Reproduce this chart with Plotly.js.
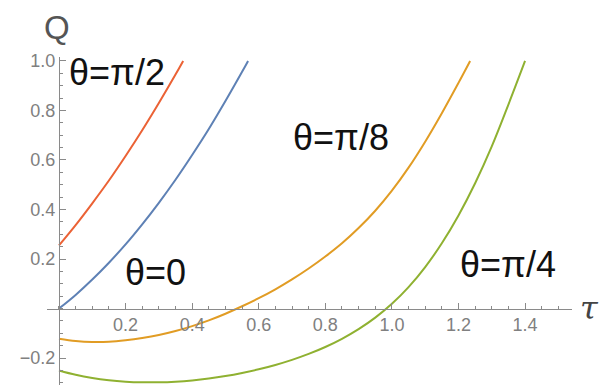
<!DOCTYPE html>
<html>
<head>
<meta charset="utf-8">
<script src="https://cdn.plot.ly/plotly-3.0.1.min.js"></script>
<style>
  html, body { margin: 0; padding: 0; background: #fff; }
  #chart { width: 600px; height: 385px; }
</style>
</head>
<body>
<div id="chart"></div>
<script>
// values (tau, Q)
const tauPi2 = [0, 0.05, 0.1, 0.15, 0.2, 0.25, 0.3, 0.35, 0.373];
const qPi2   = [0.255, 0.337, 0.425, 0.517, 0.616, 0.72, 0.83, 0.945, 1.0];

const tauZero = [0, 0.05, 0.1, 0.15, 0.2, 0.25, 0.3, 0.35, 0.4, 0.45, 0.5, 0.55, 0.568];
const qZero   = [0, 0.055, 0.117, 0.185, 0.259, 0.34, 0.427, 0.52, 0.62, 0.725, 0.838, 0.956, 1.0];

const tauPi8 = [0, 0.05, 0.1, 0.15, 0.2, 0.25, 0.3, 0.35, 0.4, 0.45, 0.5, 0.55, 0.6,
                0.65, 0.7, 0.75, 0.8, 0.85, 0.9, 0.95, 1.0, 1.05, 1.1, 1.15, 1.2, 1.235];
const qPi8   = [-0.122, -0.131, -0.135, -0.134, -0.128, -0.119, -0.107, -0.091, -0.071, -0.048, -0.021, 0.009, 0.0415,
                0.0775, 0.1175, 0.1615, 0.21, 0.2635, 0.325, 0.395, 0.476, 0.569, 0.674, 0.789, 0.9115, 1.0];

const tauPi4 = [0, 0.05, 0.1, 0.15, 0.2, 0.25, 0.3, 0.35, 0.4, 0.45, 0.5, 0.55, 0.6, 0.65, 0.7,
                0.75, 0.8, 0.85, 0.9, 0.95, 1.0, 1.05, 1.1, 1.15, 1.2, 1.25, 1.3, 1.35, 1.4];
const qPi4   = [-0.2505, -0.268, -0.281, -0.29, -0.2955, -0.298, -0.298, -0.2955, -0.2905, -0.283, -0.273, -0.2605, -0.2455, -0.228, -0.2075,
                -0.1835, -0.1555, -0.1225, -0.0835, -0.037, 0.019, 0.0865, 0.1675, 0.2635, 0.376, 0.506, 0.655, 0.824, 1.0];

const xTicks = [0.2, 0.4, 0.6, 0.8, 1.0, 1.2, 1.4];
const yTicks = [-0.2, 0.2, 0.4, 0.6, 0.8, 1.0];

const curveLabels = [
  { text: 'θ=π/2', x: 0.173, y: 0.955 },
  { text: 'θ=0',   x: 0.291, y: 0.147 },
  { text: 'θ=π/8', x: 0.847, y: 0.689 },
  { text: 'θ=π/4', x: 1.348, y: 0.176 }
];

const xRange = [-0.036, 1.541];
const yRange = [-0.309, 1.016];
const axisColor = '#8a8a8a';
const tickFontColor = '#808080';
const sans = 'Liberation Sans, Arial, sans-serif';

function curve(x, y, color) {
  return {
    x: x, y: y, type: 'scatter', mode: 'lines',
    line: { color: color, width: 2, shape: 'spline', smoothing: 1 },
    hoverinfo: 'skip', showlegend: false
  };
}

const traces = [
  curve(tauPi2, qPi2, '#EB6235'),
  curve(tauZero, qZero, '#5E81B5'),
  curve(tauPi8, qPi8, '#E19C24'),
  curve(tauPi4, qPi4, '#8FB131')
];

const annotations = curveLabels.map(l => ({
  text: l.text, x: l.x, y: l.y, xref: 'x', yref: 'y',
  showarrow: false, xanchor: 'center', yanchor: 'middle',
  font: { family: sans, size: 36, color: '#111' }
}));

annotations.push({
  text: 'Q', xref: 'paper', yref: 'paper', x: 0.019, y: 1.091,
  showarrow: false, xanchor: 'center', yanchor: 'middle',
  font: { family: sans, size: 33, color: '#555' }
});
annotations.push({
  text: '<i>τ</i>', xref: 'paper', yref: 'paper', x: 1.034, y: 0.236,
  showarrow: false, xanchor: 'center', yanchor: 'middle',
  font: { family: 'DejaVu Serif, serif', size: 32, color: '#444' }
});

const layout = {
  width: 600,
  height: 385,
  margin: { l: 47, r: 28, t: 57, b: 0 },
  paper_bgcolor: '#fff',
  plot_bgcolor: '#fff',
  showlegend: false,
  xaxis: {
    range: xRange,
    anchor: 'free',
    position: (0 - yRange[0]) / (yRange[1] - yRange[0]),
    showgrid: false, zeroline: false,
    showline: true, linecolor: axisColor, linewidth: 1.3,
    tickmode: 'array', tickvals: xTicks, ticktext: xTicks.map(v => v.toFixed(1)),
    ticks: 'inside', ticklen: 6, tickcolor: axisColor, tickwidth: 1,
    minor: { tickmode: 'linear', tick0: 0, dtick: 0.05, ticks: 'inside', ticklen: 3, tickcolor: axisColor },
    tickfont: { family: sans, size: 18, color: tickFontColor }
  },
  yaxis: {
    range: yRange,
    anchor: 'free',
    position: (0 - xRange[0]) / (xRange[1] - xRange[0]),
    showgrid: false, zeroline: false,
    showline: true, linecolor: axisColor, linewidth: 1.3,
    tickmode: 'array', tickvals: yTicks, ticktext: yTicks.map(v => v.toFixed(1).replace('-', '\u2212')),
    ticks: 'inside', ticklen: 6, tickcolor: axisColor, tickwidth: 1,
    minor: { tickmode: 'linear', tick0: 0, dtick: 0.05, ticks: 'inside', ticklen: 3, tickcolor: axisColor },
    tickfont: { family: sans, size: 18, color: tickFontColor }
  },
  annotations: annotations
};

Plotly.newPlot('chart', traces, layout, { staticPlot: true, displayModeBar: false });
</script>
</body>
</html>
